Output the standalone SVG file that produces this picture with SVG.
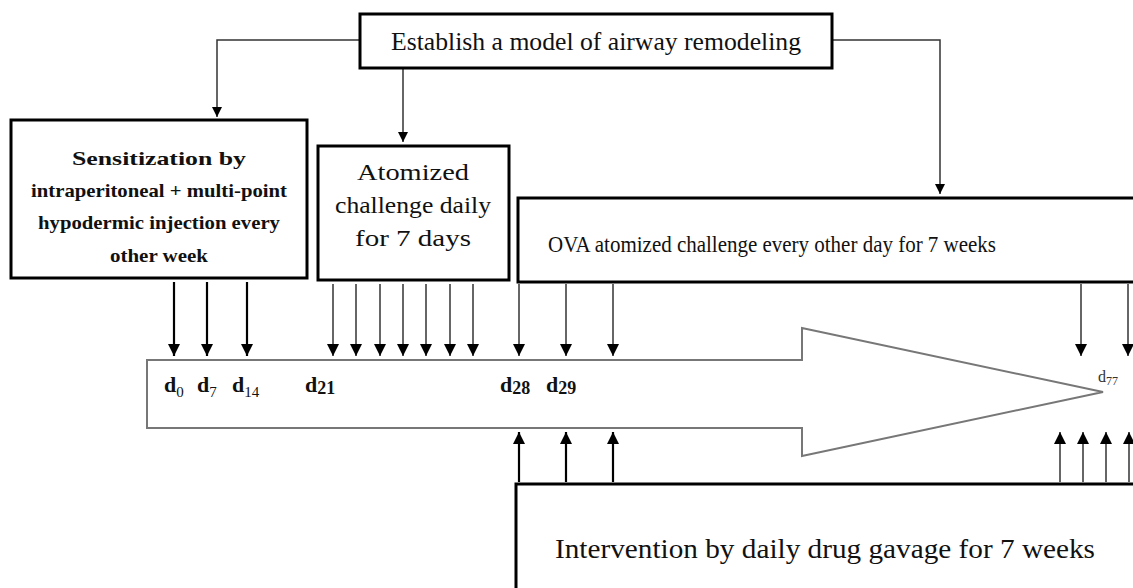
<svg xmlns="http://www.w3.org/2000/svg" width="1133" height="588" viewBox="0 0 1133 588">
<style>
.box{fill:#fff;stroke:#000;stroke-width:3}
.t{font-family:"Liberation Serif","Times New Roman",serif;fill:#111;text-anchor:middle}
.b{font-weight:bold}
.c{fill:none;stroke:#333;stroke-width:1.5}
.k{fill:none;stroke:#000;stroke-width:2.2}
.d{font-family:"Liberation Serif","Times New Roman",serif;font-weight:bold;font-size:22px;fill:#111}
</style>
<defs>
<marker id="ah" viewBox="0 0 10 10" refX="10" refY="5" markerWidth="10" markerHeight="10" markerUnits="userSpaceOnUse" orient="auto">
<path d="M0,0 L10,5 L0,10 z" fill="#000"/>
</marker>
<marker id="ahb" viewBox="0 0 10 10" refX="10" refY="5" markerWidth="12" markerHeight="12" markerUnits="userSpaceOnUse" orient="auto">
<path d="M0,0 L10,5 L0,10 z" fill="#000"/>
</marker>
</defs>

<g id="timeline">
<path d="M147,360 L802,360 L802,328 L1103,392 L802,456 L802,428 L147,428 Z" fill="#fff" stroke="#777" stroke-width="2"/>
</g>

<g id="connectors">
<path class="c" d="M360,40 H217 V117" marker-end="url(#ah)"/>
<path class="c" d="M403,68 V142" marker-end="url(#ah)"/>
<path class="c" d="M832,40 H940 V194" marker-end="url(#ah)"/>
<path class="k" d="M174,282 V356" marker-end="url(#ahb)"/>
<path class="k" d="M207,282 V356" marker-end="url(#ahb)"/>
<path class="k" d="M247,282 V356" marker-end="url(#ahb)"/>
<path class="c" d="M333,284 V356" marker-end="url(#ahb)"/>
<path class="c" d="M356,284 V356" marker-end="url(#ahb)"/>
<path class="c" d="M380,284 V356" marker-end="url(#ahb)"/>
<path class="c" d="M403,284 V356" marker-end="url(#ahb)"/>
<path class="c" d="M426,284 V356" marker-end="url(#ahb)"/>
<path class="c" d="M450,284 V356" marker-end="url(#ahb)"/>
<path class="c" d="M473,284 V356" marker-end="url(#ahb)"/>
<path class="c" d="M519,284 V356" marker-end="url(#ahb)"/>
<path class="c" d="M566,284 V356" marker-end="url(#ahb)"/>
<path class="c" d="M613,284 V356" marker-end="url(#ahb)"/>
<path class="c" d="M1081,284 V356" marker-end="url(#ahb)"/>
<path class="c" d="M1128,284 V356" marker-end="url(#ahb)"/>
<path class="k" d="M519,482 V432" marker-end="url(#ahb)"/>
<path class="k" d="M566,482 V432" marker-end="url(#ahb)"/>
<path class="k" d="M613,482 V432" marker-end="url(#ahb)"/>
<path class="c" d="M1060,482 V432" marker-end="url(#ahb)"/>
<path class="c" d="M1083,482 V432" marker-end="url(#ahb)"/>
<path class="c" d="M1106,482 V432" marker-end="url(#ahb)"/>
<path class="c" d="M1129,482 V432" marker-end="url(#ahb)"/>
</g>

<g id="model">
<rect class="box" x="360" y="14" width="472" height="54"/>
<text class="t" x="596" y="50" font-size="26" textLength="410" lengthAdjust="spacingAndGlyphs">Establish a model of airway remodeling</text>
</g>

<g id="sensitization">
<rect class="box" x="11" y="120" width="296" height="158"/>
<text class="t b" font-size="19" x="159" y="165" textLength="174" lengthAdjust="spacingAndGlyphs">Sensitization by</text>
<text class="t b" font-size="19" x="159" y="197" textLength="256" lengthAdjust="spacingAndGlyphs">intraperitoneal + multi-point</text>
<text class="t b" font-size="19" x="159" y="229" textLength="242" lengthAdjust="spacingAndGlyphs">hypodermic injection every</text>
<text class="t b" font-size="19" x="159" y="262" textLength="98" lengthAdjust="spacingAndGlyphs">other week</text>
</g>

<g id="atomized">
<rect class="box" x="318" y="146" width="191" height="134"/>
<text class="t" font-size="23" x="413" y="180" textLength="112" lengthAdjust="spacingAndGlyphs">Atomized</text>
<text class="t" font-size="23" x="413" y="213" textLength="156" lengthAdjust="spacingAndGlyphs">challenge daily</text>
<text class="t" font-size="23" x="413" y="246" textLength="116" lengthAdjust="spacingAndGlyphs">for 7 days</text>
</g>

<g id="ova">
<rect class="box" x="518" y="198" width="630" height="84"/>
<text class="t" font-size="24" x="772" y="252" textLength="448" lengthAdjust="spacingAndGlyphs">OVA atomized challenge every other day for 7 weeks</text>
</g>

<g id="intervention">
<rect class="box" x="516" y="484" width="640" height="120"/>
<text class="t" font-size="27" x="825" y="558" textLength="540" lengthAdjust="spacingAndGlyphs">Intervention by daily drug gavage for 7 weeks</text>
</g>

<g id="labels">
<text class="d" x="164" y="392">d<tspan font-size="15" dy="5" font-weight="normal">0</tspan></text>
<text class="d" x="197" y="392">d<tspan font-size="15" dy="5" font-weight="normal">7</tspan></text>
<text class="d" x="232" y="392">d<tspan font-size="15" dy="5" font-weight="normal">14</tspan></text>
<text class="d" x="305" y="392">d<tspan font-size="18" dy="2">21</tspan></text>
<text class="d" x="500" y="392">d<tspan font-size="18" dy="2">28</tspan></text>
<text class="d" x="546" y="392">d<tspan font-size="18" dy="2">29</tspan></text>
<text x="1098" y="382" font-family="Liberation Serif, serif" font-size="16" fill="#333">d<tspan font-size="12" dy="3">77</tspan></text>
</g>
</svg>
